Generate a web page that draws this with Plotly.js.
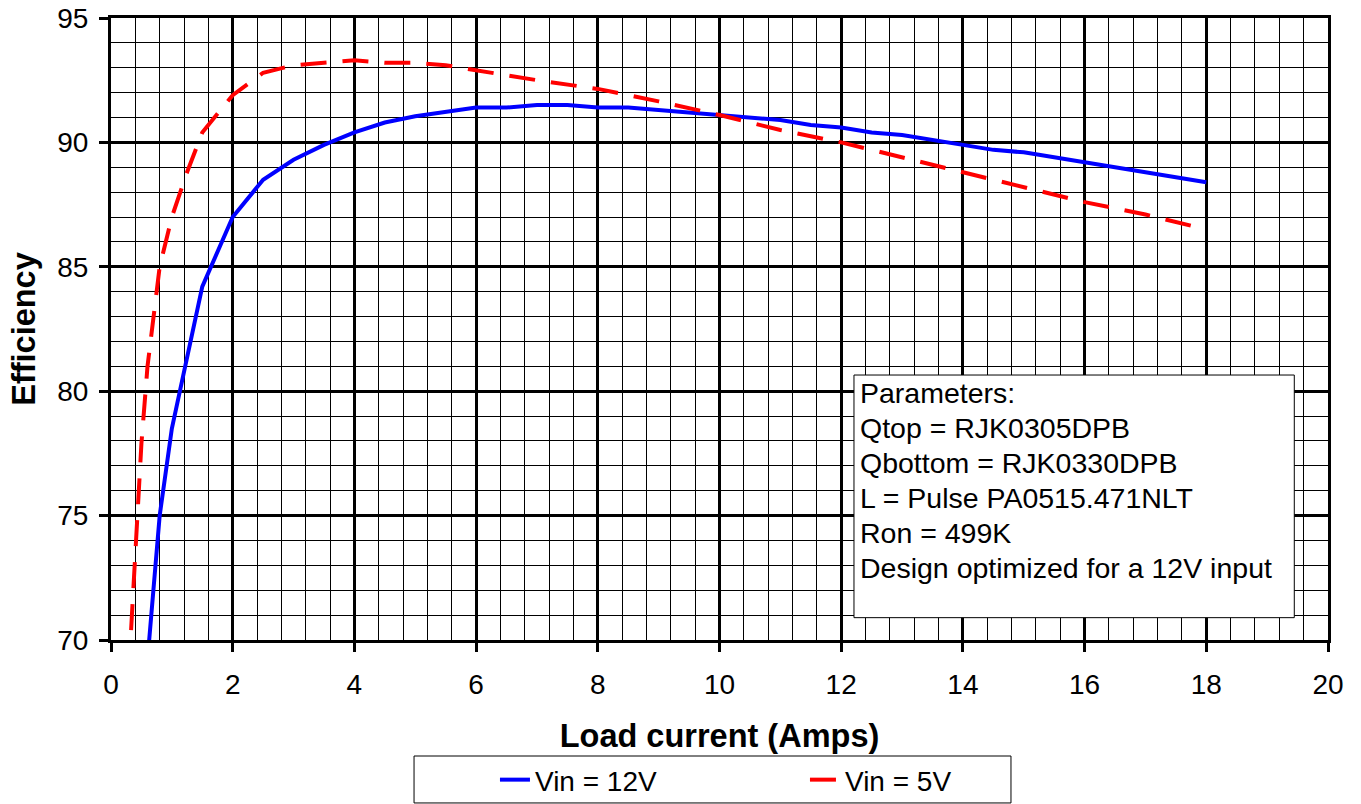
<!DOCTYPE html>
<html>
<head>
<meta charset="utf-8">
<script src="https://cdn.plot.ly/plotly-3.0.1.min.js"></script>
<style>html,body{margin:0;padding:0;background:#fff;overflow:hidden;width:1361px;height:804px;}#chart{width:1361px;height:804px;}</style>
</head>
<body>
<div id="chart"></div>
<script>
var x12 = [0.6, 0.8, 1.0, 1.5, 2, 2.5, 3, 3.5, 4, 4.5, 5, 6, 6.5, 7, 7.5, 8, 8.5, 9, 10, 11, 11.5, 12, 12.5, 13, 14, 14.5, 15, 16, 17, 18];
var y12 = [69.2, 75.0, 78.5, 84.2, 87.0, 88.5, 89.3, 89.9, 90.4, 90.8, 91.05, 91.4, 91.4, 91.5, 91.5, 91.4, 91.4, 91.3, 91.1, 90.9, 90.7, 90.6, 90.4, 90.3, 89.9, 89.7, 89.6, 89.2, 88.8, 88.4];
var x5 = [0.33, 0.4, 0.5, 0.6, 0.7, 0.8, 1.0, 1.25, 1.5, 2, 2.5, 3, 3.5, 4, 4.5, 5, 5.5, 6, 7, 8, 9, 10, 11, 12, 13, 14, 15, 16, 17, 18];
var y5 = [70.4, 73.6, 77.9, 81.0, 83.1, 85.0, 87.0, 88.8, 90.4, 91.9, 92.8, 93.1, 93.2, 93.3, 93.2, 93.2, 93.1, 92.9, 92.5, 92.15, 91.65, 91.1, 90.5, 90.0, 89.4, 88.8, 88.2, 87.6, 87.1, 86.5];
var seriesNames = ["Vin = 12V", "Vin = 5V"];
var xTitle = "Load current (Amps)";
var yTitle = "Efficiency";
var noteLines = ["Parameters:", "Qtop = RJK0305DPB", "Qbottom = RJK0330DPB", "L = Pulse PA0515.471NLT", "Ron = 499K", "Design optimized for a 12V input"];

var FONT = '"Liberation Sans", Arial, Helvetica, sans-serif';

var traces = [
  {x: x12, y: y12, name: seriesNames[0], mode: 'lines', line: {color: '#0000ff', width: 4}},
  {x: x5, y: y5, name: seriesNames[1], mode: 'lines', line: {color: '#ff0000', width: 4, dash: '26px,16px'}}
];

var noteAnnotations = noteLines.map(function (t, i) {
  return {xref: 'paper', yref: 'paper', x: 0.6138, y: 0.3971 - i * 0.05637,
          xanchor: 'left', yanchor: 'middle', align: 'left', showarrow: false, text: t,
          font: {family: FONT, size: 28.5, color: '#000'}};
});

var layout = {
  width: 1361, height: 804,
  margin: {l: 111, r: 33, t: 18, b: 164, pad: 0, autoexpand: false},
  paper_bgcolor: '#fff', plot_bgcolor: '#fff',
  font: {family: FONT, color: '#000', size: 28},
  showlegend: true,
  legend: {
    orientation: 'h', x: 0.3155, xanchor: 'left', y: -0.225, yanchor: 'middle',
    bgcolor: 'rgba(0,0,0,0)', borderwidth: 0, entrywidth: 265,
    font: {family: FONT, size: 28, color: '#000'}
  },
  xaxis: {
    range: [0, 20], dtick: 2, tick0: 0, autorange: false,
    showgrid: true, gridcolor: '#000', gridwidth: 3,
    showline: true, linecolor: '#000', linewidth: 3, mirror: true,
    ticks: 'outside', ticklen: 9, tickwidth: 3, tickcolor: '#000',
    zeroline: false, automargin: false,
    tickfont: {family: FONT, size: 28, color: '#000'},
    ticklabelstandoff: 8,
    minor: {dtick: 0.4, tick0: 0, showgrid: true, gridcolor: '#000', gridwidth: 1, ticks: ''},
    title: {text: xTitle, font: {family: FONT, size: 32.5, color: '#000', weight: 'bold'}, standoff: 26}
  },
  yaxis: {
    range: [70, 95], dtick: 5, tick0: 70, autorange: false,
    showgrid: true, gridcolor: '#000', gridwidth: 3,
    showline: true, linecolor: '#000', linewidth: 3, mirror: true,
    ticks: 'outside', ticklen: 9, tickwidth: 3, tickcolor: '#000',
    zeroline: false, automargin: false,
    tickfont: {family: FONT, size: 28, color: '#000'},
    ticklabelstandoff: 5,
    minor: {dtick: 1, tick0: 70, showgrid: true, gridcolor: '#000', gridwidth: 1, ticks: ''},
    title: {text: yTitle, font: {family: FONT, size: 32.5, color: '#000', weight: 'bold'}, standoff: 12}
  },
  shapes: [
    {type: 'rect', xref: 'paper', yref: 'paper', x0: 0.6105, x1: 0.9723, y0: 0.0359, y1: 0.426,
     fillcolor: '#fff', line: {color: '#000', width: 1}, layer: 'above'},
    {type: 'rect', xref: 'paper', yref: 'paper', x0: 0.249, x1: 0.7395, y0: -0.262, y1: -0.1865,
     fillcolor: 'rgba(0,0,0,0)', line: {color: '#000', width: 1}, layer: 'above'}
  ],
  annotations: noteAnnotations
};

Plotly.newPlot('chart', traces, layout, {displayModeBar: false, staticPlot: true});
</script>
</body>
</html>
